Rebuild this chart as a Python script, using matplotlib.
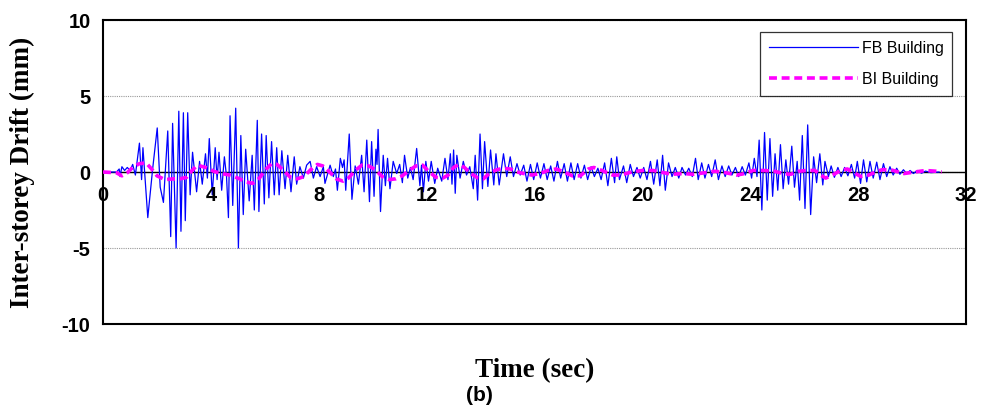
import matplotlib.pyplot as plt

plt.rcParams['axes.unicode_minus'] = False

# FB building response (alternating peaks)
fb_t = [0, 0.5, 0.6, 0.63, 0.7, 0.8, 0.9, 1.0, 1.1, 1.2, 1.35, 1.43, 1.48, 1.66, 1.84, 2.01, 2.12, 2.24,
        2.40, 2.51, 2.58, 2.71, 2.81, 2.89, 2.98, 3.05, 3.14, 3.23, 3.32, 3.47, 3.58, 3.68, 3.80, 3.87,
        3.94, 4.05, 4.16, 4.23, 4.30, 4.40, 4.50, 4.58, 4.65, 4.71, 4.81, 4.92, 5.02, 5.11, 5.20, 5.29,
        5.42, 5.53, 5.61, 5.72, 5.78, 5.88, 5.98, 6.05, 6.15, 6.25, 6.35, 6.44, 6.53, 6.63, 6.75, 6.85,
        6.97, 7.09, 7.18, 7.30, 7.43, 7.55, 7.68, 7.80, 7.92, 8.05, 8.17, 8.23, 8.42, 8.54, 8.62, 8.69,
        8.80, 8.88, 8.94, 9.00, 9.13, 9.23, 9.35, 9.47, 9.59, 9.68, 9.78, 9.88, 9.96, 10.05, 10.12, 10.16,
        10.20, 10.29, 10.39, 10.47, 10.55, 10.64, 10.76, 10.89, 11.00, 11.10, 11.18, 11.30, 11.40, 11.50,
        11.63, 11.75, 11.81, 11.88, 11.97, 12.07, 12.17, 12.30, 12.41, 12.56, 12.68, 12.79, 12.88, 12.94,
        13.00, 13.06, 13.12, 13.24, 13.36, 13.48, 13.60, 13.73, 13.80, 13.89, 13.98, 14.07, 14.15, 14.27,
        14.37, 14.49, 14.57, 14.69, 14.85, 14.97, 15.10, 15.22, 15.35, 15.47, 15.60, 15.72, 15.85, 15.97,
        16.10, 16.22, 16.35, 16.47, 16.60, 16.72, 16.85, 16.97, 17.10, 17.22, 17.35, 17.47, 17.60, 17.72,
        17.85, 17.97, 18.10, 18.22, 18.35, 18.47, 18.60, 18.72, 18.85, 18.97, 19.05, 19.15, 19.30, 19.42,
        19.55, 19.67, 19.80, 19.92, 20.05, 20.17, 20.30, 20.42, 20.55, 20.65, 20.75, 20.85, 20.97, 21.10,
        21.22, 21.35, 21.47, 21.60, 21.72, 21.85, 21.97, 22.07, 22.20, 22.32, 22.45, 22.57, 22.70, 22.82,
        22.95, 23.07, 23.20, 23.32, 23.45, 23.57, 23.70, 23.82, 23.95, 24.05, 24.15, 24.25, 24.33, 24.43,
        24.53, 24.63, 24.73, 24.83, 24.92, 25.02, 25.12, 25.22, 25.32, 25.42, 25.54, 25.64, 25.74, 25.83,
        25.93, 26.03, 26.13, 26.24, 26.35, 26.46, 26.58, 26.69, 26.77, 26.90, 27.00, 27.12, 27.25, 27.37,
        27.50, 27.62, 27.75, 27.87, 27.97, 28.09, 28.20, 28.32, 28.44, 28.56, 28.69, 28.81, 28.94, 29.06,
        29.18, 29.30, 29.43, 29.55, 29.68, 29.80, 29.93, 30.05, 30.2, 30.35, 30.5, 30.7, 31.0]
fb_v = [0, 0, 0.2, -0.3, 0.35, 0.1, 0.3, 0.1, 0.5, -0.2, 1.9, -0.5, 1.6, -3.0, 0.2, 2.9, -1.0, -2.0,
        2.7, -4.25, 3.2, -5.0, 4.0, -3.9, 3.9, -3.2, 3.9, -1.5, 1.3, -1.3, 0.7, -0.8, 1.2, -0.4,
        2.2, -1.5, 1.6, -0.5, 1.3, -1.2, 1.0, -0.3, -3.0, 3.7, -2.2, 4.2, -5.0, 2.4, -2.8, 1.5,
        -1.9, 1.1, -2.5, 3.4, -2.6, 2.5, -2.1, 2.4, -1.7, 2.0, -1.5, 1.6, -1.5, 1.4, -1.1, 1.1,
        -1.3, 1.0, -0.8, 0.35, -0.4, 0.45, 0.7, -0.4, 0.35, -0.3, 0.35, -0.75, 0.45, -0.3, 0.2, -1.2,
        0.9, 0.3, 0.8, -1.2, 2.5, -1.8, 0.4, -0.8, 1.1, -1.3, 2.1, -1.95, 2.0, -1.6, 1.5, 0.5,
        2.8, -2.6, 1.1, -0.9, 0.9, -1.1, 0.7, -0.1, 0.5, -0.7, 1.1, -0.4, 0.3, -0.5,
        1.55, -0.9, 0.45, -1.3, 0.7, -0.6, 0.7, -0.75, 0.25, -0.6, 0.9, -0.5, 1.2, -0.8,
        1.45, -1.4, 1.1, -0.4, 0.7, -0.2, 0.35, -1.1, 1.1, -1.85, 2.5, -1.1, 2.0, -0.95,
        1.45, -0.85, 1.2, -0.85, 1.2, -0.3, 1.0, -0.3, 0.55, -0.2, 0.45, -0.6, 0.5, -0.5,
        0.6, -0.4, 0.55, -0.5, 0.4, -0.6, 0.7, -0.4, 0.55, -0.6, 0.6, -0.5, 0.55, -0.4,
        0.45, -0.5, 0.35, -0.3, 0.25, -0.5, 0.6, -0.9, 0.9, -0.7, 1.0, -0.5, 0.4, -0.7,
        0.5, -0.3, 0.3, -0.4, 0.3, -0.5, 0.7, -0.8, 0.8, -0.9, 1.1, -1.2, 0.6, -0.3,
        0.3, -0.4, 0.3, -0.2, 0.25, -0.3, 0.9, -0.5, 0.6, -0.4, 0.5, -0.3, 0.8, -0.5,
        0.4, -0.3, 0.4, -0.2, 0.3, -0.3, 0.35, -0.2, 0.6, -0.4, 0.9, -0.3, 2.1, -2.5,
        2.6, -1.85, 2.2, -1.6, 1.2, -1.2, 1.8, -1.1, 0.8, -0.8, 1.7, -1.0, 0.7, -1.85,
        2.4, -2.4, 3.1, -2.8, 1.0, -0.7, 1.2, -0.85, 0.7, -0.3, 0.4, -0.35, 0.3, -0.3,
        0.3, -0.25, 0.5, -0.4, 0.7, -0.75, 0.8, -0.65, 0.7, -0.4, 0.65, -0.5, 0.55, -0.3,
        0.35, -0.2, 0.25, -0.15, 0.15, -0.1, 0.1, -0.1, 0.1, -0.08, 0.06, -0.04, 0]

# BI building response
bi_t = [0, 0.5, 0.7, 0.9, 1.1, 1.35, 1.6, 1.8, 2.0, 2.3, 2.6, 2.85, 3.1, 3.3, 3.5, 3.7, 3.9, 4.1, 4.4,
        4.7, 5.0, 5.3, 5.55, 5.8, 6.0, 6.25, 6.45, 6.7, 6.95, 7.2, 7.45, 7.7, 7.95, 8.15, 8.4, 8.65,
        8.9, 9.1, 9.35, 9.6, 9.85, 10.1, 10.35, 10.6, 10.85, 11.1, 11.35, 11.6, 11.85, 12.1, 12.35,
        12.6, 12.8, 13.0, 13.2, 13.4, 13.65, 13.9, 14.1, 14.35, 14.6, 14.85, 15.1, 15.35, 15.6, 15.9,
        16.2, 16.5, 16.8, 17.1, 17.4, 17.7, 18.0, 18.2, 18.5, 18.9, 19.2, 19.6, 20.0, 20.4, 20.8,
        21.1, 21.5, 21.9, 22.3, 22.7, 23.1, 23.5, 23.8, 24.1, 24.5, 24.9, 25.2, 25.5, 25.8, 26.1,
        26.4, 26.6, 26.8, 27.1, 27.35, 27.6, 27.85, 28.1, 28.4, 28.7, 28.9, 29.2, 29.4, 29.7, 30.1,
        30.5, 30.9, 31.1]
bi_v = [0, -0.05, -0.25, -0.05, 0.3, 0.55, 0.6, 0.2, -0.25, -0.5, -0.45, -0.45, -0.35, 0.1, 0.45,
        0.35, 0.25, 0.05, -0.1, -0.2, -0.4, -0.65, -0.75, -0.4, 0.1, 0.55, 0.5, 0.1, -0.35, -0.45,
        -0.3, 0.15, 0.5, 0.4, 0.0, -0.45, -0.6, -0.4, 0.1, 0.45, 0.4, 0.15, -0.3, -0.5, -0.45, -0.25,
        0.1, 0.4, 0.45, 0.0, -0.35, -0.4, -0.2, 0.3, 0.5, 0.3, -0.1, -0.4, -0.45, -0.05, 0.15, 0.25,
        0.2, 0.0, -0.1, -0.2, -0.1, 0.1, 0.2, 0.0, -0.25, -0.25, 0.2, 0.3, 0.1, -0.2, -0.2, 0.0, 0.1,
        0.1, -0.05, -0.15, -0.1, -0.15, -0.05, 0.05, -0.05, -0.2, -0.1, 0.1, 0.1, 0.05, -0.1, -0.15,
        0.05, 0.1, 0.1, -0.2, -0.4, -0.15, 0.1, 0.2, -0.05, -0.3, -0.2, 0.05, 0.15, 0.15, 0.05, -0.1,
        0.0, 0.1, 0.05, 0.0]

xticks = [0, 4, 8, 12, 16, 20, 24, 28, 32]
yticks = [-10, -5, 0, 5, 10]

fig = plt.figure(figsize=(9.84, 4.17), dpi=100)
ax = fig.add_axes([0.1047, 0.223, 0.877, 0.729])

ax.plot(fb_t, fb_v, color='#0000FF', lw=0.9, label='FB Building', zorder=3)
ax.plot(bi_t, bi_v, color='#FF00FF', lw=2.6, ls=(0, (2.2, 1.3)), label='BI Building', zorder=4)
ax.axhline(0, color='black', lw=1, zorder=2)

ax.set_xlim(0, 32)
ax.set_ylim(-10, 10)
ax.set_yticks(yticks)
ax.set_xticks(xticks)
ax.set_xticklabels([])
ax.tick_params(length=0)
ax.tick_params(axis='y', pad=9)
for lab in ax.get_yticklabels():
    lab.set_fontfamily('Liberation Sans')
    lab.set_fontweight('bold')
    lab.set_fontsize(14.5)
ax.grid(axis='y', color='#999999', ls=(0, (1, 1)), lw=0.8)
for s in ax.spines.values():
    s.set_linewidth(1.5)
    s.set_color('black')

for t in xticks:
    ax.text(t, -0.95, str(t), ha='center', va='top', fontsize=14.5, fontweight='bold',
            family='Liberation Sans', zorder=5)

ax.set_ylabel('Inter-storey Drift (mm)', family='Liberation Serif', fontweight='bold',
              fontsize=19.5, labelpad=19)
ax.set_xlabel('Time (sec)', family='Liberation Serif', fontweight='bold', fontsize=19.5,
              labelpad=21)
fig.text(0.487, 0.028, '(b)', ha='center', va='bottom', family='Liberation Sans',
         fontweight='bold', fontsize=15)

leg = ax.legend(loc='upper right', bbox_to_anchor=(0.984, 0.9605), borderaxespad=0,
                prop={'family': 'Liberation Sans', 'size': 11.5}, fancybox=False,
                edgecolor='black', handlelength=5.6, borderpad=0.55, labelspacing=1.0,
                handletextpad=0.2)
leg.get_frame().set_linewidth(0.9)

fig.savefig('out.png', dpi=100)
